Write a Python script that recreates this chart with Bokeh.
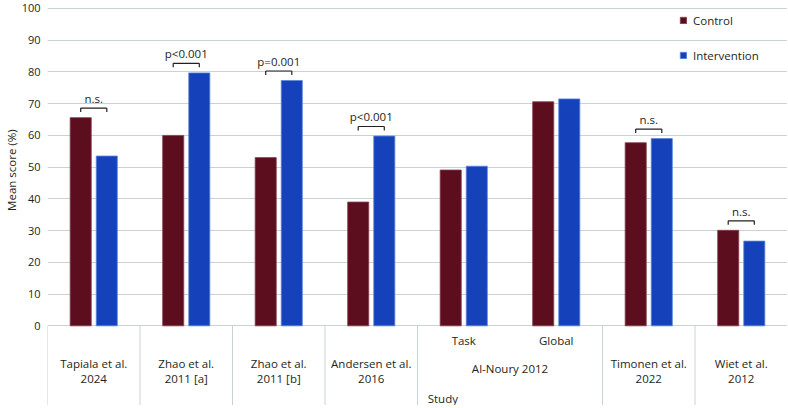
import math
from bokeh.plotting import figure
from bokeh.models import Range1d, FixedTicker, Legend, LegendItem, ColumnDataSource
from bokeh.layouts import row
from bokeh.transform import dodge
from bokeh.embed import file_html
from bokeh.resources import INLINE
from bokeh.core.properties import value

# ---------------- data ----------------
slots = ["Tapiala et al. 2024", "Zhao et al. 2011 [a]", "Zhao et al. 2011 [b]",
         "Andersen et al. 2016", "Al-Noury 2012 Task", "Al-Noury 2012 Global",
         "Timonen et al. 2022", "Wiet et al. 2012"]
control = [65.6, 60.0, 53.0, 39.0, 49.1, 70.6, 57.7, 30.1]
intervention = [53.5, 79.7, 77.3, 59.8, 50.3, 71.5, 59.0, 26.7]
significance = ["n.s.", "p<0.001", "p=0.001", "p<0.001", "", "", "n.s.", "n.s."]
sub_labels = ["", "", "", "", "Task", "Global", "", ""]
study_labels = ["Tapiala et al.\n2024", "Zhao et al.\n2011 [a]", "Zhao et al.\n2011 [b]",
                "Andersen et al.\n2016", "Al-Noury 2012", "Timonen et al.\n2022",
                "Wiet et al.\n2012"]
study_spans = [1, 1, 1, 1, 2, 1, 1]
y_ticks = list(range(0, 101, 10))
series_names = ["Control", "Intervention"]
x_title = "Study"
y_title = "Mean score (%)"

# ---------------- style ----------------
FONT = "Open Sans"
FS = "11.5px"
C_CTRL = "#5C0D1E"
C_INT = "#1541BA"
GRID = "#C9D2D5"
TXT = "#231F20"
OFF = 0.141
BW = 0.228
Y0, Y1 = -25.1, 100.3
FRAME_H = 398
TOP = 7
PX = (Y1 - Y0) / FRAME_H          # data units per screen pixel
H = TOP + FRAME_H
LAB_W = 18
LEFT = 29
W = 769

n = len(slots)
p = figure(width=W, height=H, x_range=Range1d(0, n), y_range=Range1d(Y0, Y1),
           x_axis_location=None, output_backend="svg", toolbar_location=None,
           min_border_left=LEFT, min_border_right=0, min_border_top=TOP, min_border_bottom=0)
p.outline_line_color = None
p.xgrid.grid_line_color = None
p.ygrid.grid_line_color = GRID
p.ygrid.grid_line_width = 1

ax = p.yaxis[0]
ax.ticker = FixedTicker(ticks=y_ticks)
ax.axis_line_color = None
ax.major_tick_line_color = None
ax.minor_tick_line_color = None
ax.major_tick_out = 0
ax.major_tick_in = 0
ax.minor_tick_out = 0
ax.minor_tick_in = 0
ax.major_label_text_font = FONT
ax.major_label_text_font_size = "11px"
ax.major_label_text_color = TXT
ax.major_label_standoff = 7

xs = [i + 0.5 for i in range(n)]
src = ColumnDataSource(dict(x=xs, control=control, intervention=intervention))
r1 = p.vbar(x=dodge("x", -OFF), top="control", bottom=0, width=BW, source=src,
            fill_color=C_CTRL, line_color="#86404F", line_width=0.8)
r2 = p.vbar(x=dodge("x", OFF), top="intervention", bottom=0, width=BW, source=src,
            fill_color=C_INT, line_color="#5C86DA", line_width=0.8)

# significance brackets
bx0, bx1, by, tx, ty, tt = [], [], [], [], [], []
for i, s in enumerate(significance):
    if not s:
        continue
    top = max(control[i], intervention[i]) + 3.0
    bx0.append(xs[i] - OFF)
    bx1.append(xs[i] + OFF)
    by.append(top)
    tx.append(xs[i])
    ty.append(top + 3.0)
    tt.append(s)
tick = 4 * PX
p.segment(x0=bx0, x1=bx1, y0=by, y1=by, line_color=TXT, line_width=1.2)
p.segment(x0=bx0, x1=bx0, y0=by, y1=[b - tick for b in by], line_color=TXT, line_width=1.2)
p.segment(x0=bx1, x1=bx1, y0=by, y1=[b - tick for b in by], line_color=TXT, line_width=1.2)
p.text(x=tx, y=ty, text=tt, text_align="center", text_baseline="middle",
       text_font=value(FONT), text_font_size=FS, text_color=TXT)

legend = Legend(items=[LegendItem(label=series_names[0], renderers=[r1]),
                       LegendItem(label=series_names[1], renderers=[r2])],
                location=(632, 340), orientation="vertical", glyph_width=8, glyph_height=8,
                label_standoff=6, spacing=15, padding=0, margin=0, label_height=20,
                border_line_color=None, background_fill_alpha=0,
                label_text_font=FONT, label_text_font_size=FS, label_text_color=TXT)
p.add_layout(legend)

# ---------------- category table below the zero line ----------------
bounds = [0]
for s in study_spans:
    bounds.append(bounds[-1] + s)
p.segment(x0=bounds, x1=bounds, y0=[0] * len(bounds), y1=[Y0] * len(bounds),
          line_color=GRID, line_width=1)

centers = [(bounds[k] + bounds[k + 1]) / 2 for k in range(len(study_labels))]
ly = [-45.5 * PX if "\n" in s else -42.3 * PX for s in study_labels]
p.text(x=centers, y=ly, text=study_labels, text_align="center", text_baseline="middle",
       text_line_height=1.0, text_font=value(FONT), text_font_size=FS, text_color=TXT)

sx = [xs[i] for i in range(n) if sub_labels[i]]
st = [s for s in sub_labels if s]
p.text(x=sx, y=[-15 * PX] * len(sx), text=st, text_align="center", text_baseline="middle",
       text_font=value(FONT), text_font_size=FS, text_color=TXT)

p.text(x=[bounds[4] + 0.11], y=[-72.7 * PX], text=[x_title], text_align="left",
       text_baseline="middle", text_font=value(FONT), text_font_size=FS, text_color=TXT)

# ---------------- y title column ----------------
lab = figure(width=LAB_W, height=H, x_range=Range1d(0, LAB_W), y_range=Range1d(0, H),
             x_axis_location=None, y_axis_location=None, output_backend="svg",
             toolbar_location=None, min_border_left=0, min_border_right=0,
             min_border_top=0, min_border_bottom=0)
lab.outline_line_color = None
lab.xgrid.grid_line_color = None
lab.ygrid.grid_line_color = None
lab.text(x=[11], y=[H - 165.5], text=[y_title], angle=math.pi / 2, text_align="center",
         text_baseline="middle", text_font=value(FONT), text_font_size=FS, text_color=TXT)

layout = row(lab, p, spacing=0)
open("out.html", "w").write(file_html(layout, INLINE))
